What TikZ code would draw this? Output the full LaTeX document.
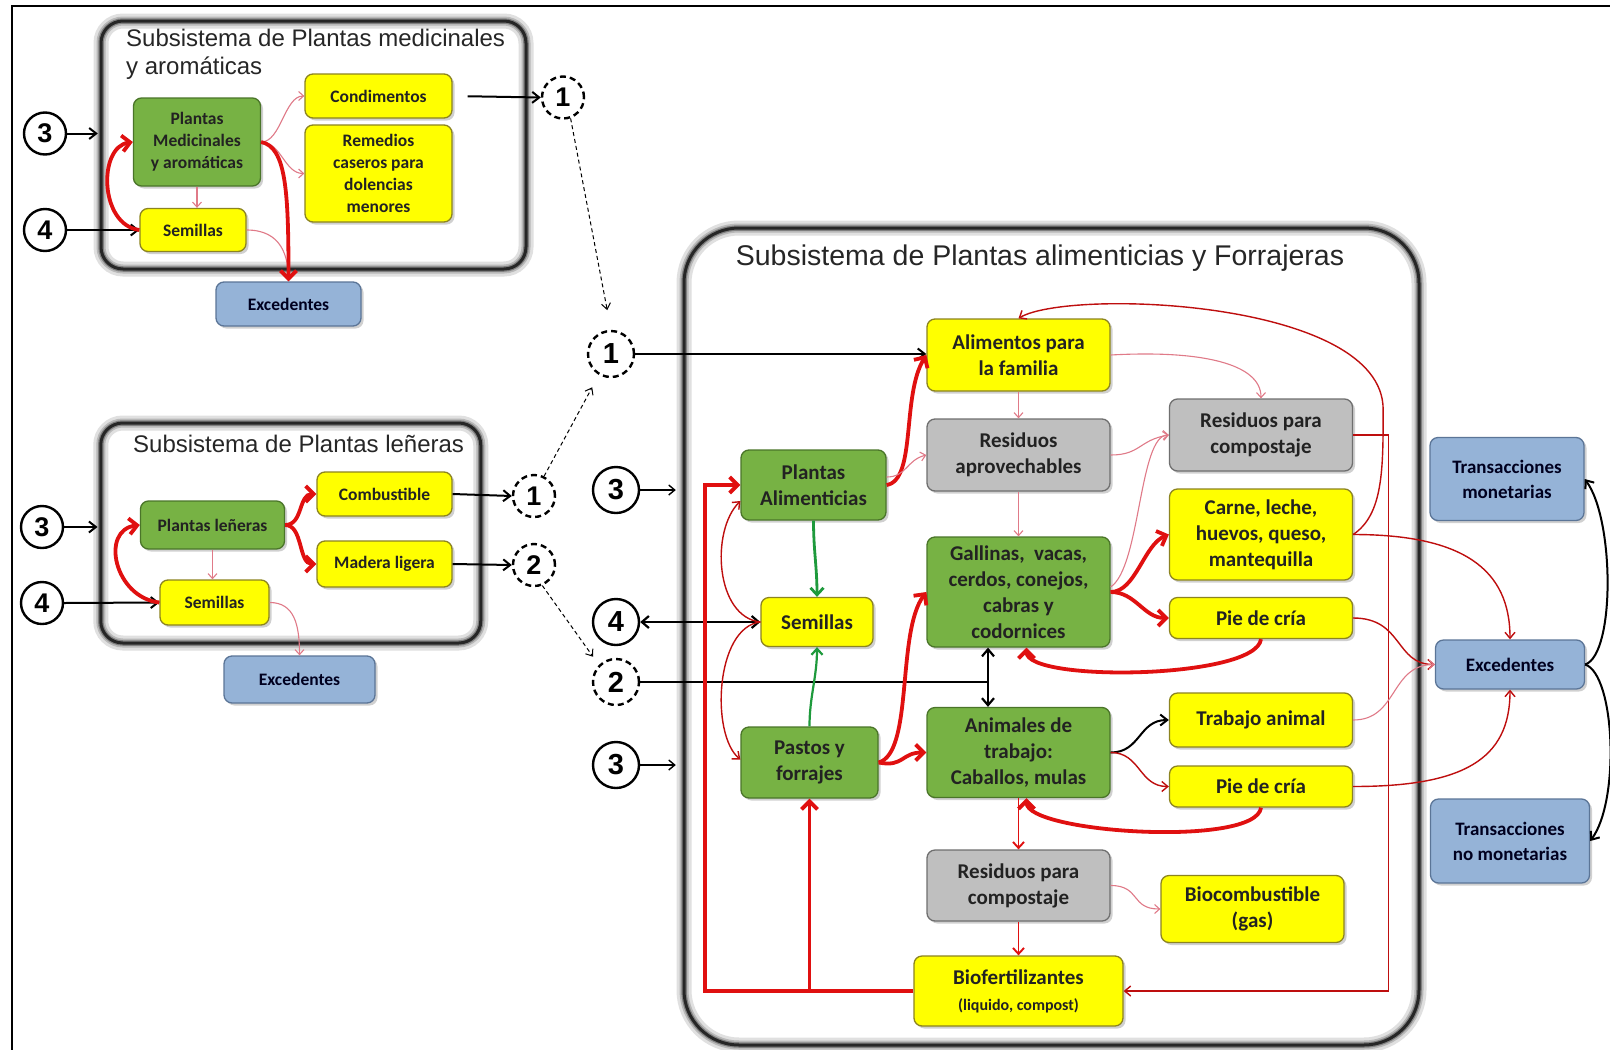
\documentclass[tikz,border=0pt]{standalone}
\usepackage{fontspec}
\setmainfont{Carlito}
\newfontfamily\arialf{Liberation Sans}
\usetikzlibrary{arrows.meta,calc,shadows}
\definecolor{yfill}{HTML}{FFFF00}
\definecolor{yline}{HTML}{8C8420}
\definecolor{gfill}{HTML}{77B244}
\definecolor{gline}{HTML}{4A7529}
\definecolor{grfill}{HTML}{BFBFBF}
\definecolor{grline}{HTML}{6F6F6F}
\definecolor{bfill}{HTML}{95B3D7}
\definecolor{bline}{HTML}{5B7597}
\definecolor{redc}{HTML}{E01010}
\definecolor{pinkc}{HTML}{E07A88}
\definecolor{greenc}{HTML}{1E9A3C}
\definecolor{txtc}{HTML}{222222}
\newcommand\fbig{\fontsize{21}{26}\selectfont\bfseries}
\newcommand\fsml{\fontsize{17.5}{22}\selectfont\bfseries}
\newcommand\fblu{\fontsize{19}{25}\selectfont\bfseries}
\newcommand\fnumA{\arialf\fontsize{27}{27}\selectfont\bfseries}
\newcommand\fnumB{\arialf\fontsize{29}{29}\selectfont\bfseries}
\newcommand\fttl{\arialf\fontsize{24}{28}\selectfont}
\newcommand\fttlB{\arialf\fontsize{28.5}{32}\selectfont}
\begin{document}
\begin{tikzpicture}[x=1pt,y=-1pt,
  bx/.style={rounded corners=8pt, line width=1.3pt, align=center, inner sep=2pt, text=txtc, font=\fbig,
     drop shadow={shadow xshift=2.5pt, shadow yshift=-2.5pt, opacity=0.3, fill=black!60}},
  yb/.style={bx, fill=yfill, draw=yline},
  gb/.style={bx, fill=gfill, draw=gline},
  grb/.style={bx, fill=grfill, draw=grline},
  bb/.style={bx, fill=bfill, draw=bline, text=black!80!blue!60!black},
  sfont/.style={font=\fsml},
  bfont/.style={font=\fblu},
  circA/.style={circle, draw=black, line width=2.4pt, fill=white, minimum size=42, inner sep=0pt, font=\fnumA},
  circB/.style={circA, minimum size=46, font=\fnumB},
  dashc/.style={dash pattern=on 6pt off 4pt},
  subbox/.style={fill=white, rounded corners=22pt, inner sep=0pt,
     postaction={draw=black!12, line width=15pt},
     postaction={draw=black!28, line width=9pt},
     postaction={draw=black!50, line width=5.5pt},
     postaction={draw=black!85, line width=3pt}},
  blk/.style={draw=black, line width=2pt, -{Straight Barb[length=7pt,width=11pt]}},
  blkboth/.style={draw=black, line width=2.2pt, {Straight Barb[length=7pt,width=12pt]}-{Straight Barb[length=7pt,width=12pt]}},
  blkthin/.style={draw=black, line width=1.4pt, -{Straight Barb[length=6pt,width=10pt]}},
  redthick/.style={draw=redc, line width=3.8pt, -{Straight Barb[length=8pt,width=16pt]}},
  redmid/.style={draw=redc, line width=1.9pt, -{Straight Barb[length=6pt,width=11pt]}},
  redthin/.style={draw=redc!85!black, line width=1.4pt, -{Straight Barb[length=6pt,width=10pt]}},
  pinkarr/.style={draw=pinkc, line width=1.1pt, -{Straight Barb[length=5pt,width=9pt]}},
  greenarr/.style={draw=greenc, line width=2.8pt, -{Straight Barb[length=7pt,width=13pt]}},
  greenthin/.style={draw=greenc, line width=2.2pt, -{Straight Barb[length=6pt,width=11pt]}},
  dasharr/.style={draw=black, line width=1pt, dash pattern=on 4pt off 3pt, -{Straight Barb[length=6pt,width=9pt]}}
]
\fill[white] (0,0) rectangle (1610,1050);
\useasboundingbox (0,0) rectangle (1610,1050);
\draw[black, line width=1.5pt] (12,1052) -- (12,6) -- (1612,6);

% subsystem frames
\node[subbox, minimum width=425, minimum height=248] (medbox) at (313.5,145) {};
\node[subbox, minimum width=380, minimum height=220] (woodbox) at (290.75,533) {};
\node[subbox, rounded corners=55pt, minimum width=735, minimum height=817] (mainbox) at (1051.5,636.5) {};

\node[anchor=north west, align=left, font=\fttl, text=black!85, inner sep=0pt] (tmed) at (126,29) {Subsistema de Plantas medicinales\\y aromáticas};
\node[anchor=west, font=\fttl, text=black!85, inner sep=0pt] (twood) at (133,443.5) {Subsistema de Plantas leñeras};
\node[font=\fttlB, text=black!85, inner sep=0pt] (tmain) at (1040,258) {Subsistema de Plantas alimenticias y Forrajeras};

% medicinal subsystem
\node[gb, sfont, minimum width=127, minimum height=88] (plmed) at (197,142) {Plantas\\Medicinales\\y aromáticas};
\node[yb, sfont, minimum width=147, minimum height=44] (cond) at (378.5,96) {Condimentos};
\node[yb, sfont, minimum width=147, minimum height=97] (rem) at (378.5,173.5) {Remedios\\caseros para\\dolencias\\menores};
\node[yb, sfont, minimum width=106, minimum height=43] (semM) at (193,230) {Semillas};
\node[bb, sfont, minimum width=145, minimum height=44] (excM) at (288.5,304) {Excedentes};
\node[circA] (c3m) at (45,133.5) {3};
\node[circA] (c4m) at (45,230) {4};
\node[circA, dashc] (dcm1) at (563,97.5) {1};

% woody subsystem
\node[gb, sfont, minimum width=144, minimum height=48] (plw) at (212.5,525) {Plantas leñeras};
\node[yb, sfont, minimum width=135, minimum height=44] (comb) at (384.5,494) {Combustible};
\node[yb, sfont, minimum width=135, minimum height=46] (mad) at (384.5,564) {Madera ligera};
\node[yb, sfont, minimum width=109, minimum height=45] (semW) at (214.5,602.5) {Semillas};
\node[bb, sfont, minimum width=151, minimum height=47] (excW) at (299.5,679.5) {Excedentes};
\node[circA] (c3w) at (42,527) {3};
\node[circA] (c4w) at (42,603) {4};
\node[circA, dashc] (dc1w) at (534,496) {1};
\node[circA, dashc] (dc2w) at (534,565) {2};

% main subsystem
\node[circB, dashc] (dc1) at (611,354) {1};
\node[circB] (c3a) at (616,490) {3};
\node[circB] (c4) at (616,622) {4};
\node[circB, dashc] (dc2) at (616,682) {2};
\node[circB] (c3b) at (616,765) {3};

\node[yb, minimum width=183, minimum height=72] (alim) at (1018.5,355) {Alimentos para\\la familia};
\node[grb, minimum width=183, minimum height=72] (resap) at (1018.5,455) {Residuos\\aprovechables};
\node[gb, minimum width=145, minimum height=70] (plalim) at (813.5,485) {Plantas\\Alimenticias};
\node[grb, minimum width=183, minimum height=72] (rescompU) at (1261,435) {Residuos para\\compostaje};
\node[yb, minimum width=183, minimum height=91] (carne) at (1261,534.5) {Carne, leche,\\huevos, queso,\\mantequilla};
\node[gb, minimum width=183, minimum height=110] (gall) at (1018.5,592) {Gallinas,\ \ vacas,\\cerdos, conejos,\\cabras y\\codornices};
\node[yb, minimum width=183, minimum height=41] (pieU) at (1261,618) {Pie de cría};
\node[yb, minimum width=112, minimum height=49] (semmain) at (817,622) {Semillas};
\node[gb, minimum width=137, minimum height=71] (pastos) at (809.5,762.5) {Pastos y\\forrajes};
\node[gb, minimum width=183, minimum height=90] (anim) at (1018.5,752.5) {Animales de\\trabajo:\\Caballos, mulas};
\node[yb, minimum width=183, minimum height=54] (trab) at (1261,720) {Trabajo animal};
\node[yb, minimum width=183, minimum height=41] (pieL) at (1261,786.5) {Pie de cría};
\node[grb, minimum width=183, minimum height=71] (rescompL) at (1018.5,885.5) {Residuos para\\compostaje};
\node[yb, minimum width=183, minimum height=67] (biocomb) at (1252.5,909) {Biocombustible\\(gas)};
\node[yb, minimum width=209, minimum height=70] (bio) at (1018.5,991) {Biofertilizantes\\{\fontsize{16}{19}\selectfont\bfseries (liquido, compost)}};

\node[bb, bfont, minimum width=154, minimum height=83] (transm) at (1507,479) {Transacciones\\monetarias};
\node[bb, bfont, minimum width=149, minimum height=49] (excR) at (1510,664.5) {Excedentes};
\node[bb, bfont, minimum width=159, minimum height=84] (transn) at (1510,841) {Transacciones\\no monetarias};

% ---- medicinal connectors
\draw[blk, shorten >=3pt] (c3m.east) -- (c3m.east -| medbox.west);
\draw[blk] (c4m.east) -- (semM.west);
\draw[redthick] (semM.west) .. controls +(-40,-5) and +(-35,5) .. (plmed.west);
\draw[pinkarr] (plmed.south) -- (plmed.south |- semM.north);
\draw[pinkarr] (plmed.east) .. controls +(20,0) and +(-20,0) .. (cond.west);
\draw[pinkarr] (plmed.east) .. controls +(20,0) and +(-20,0) .. (rem.west);
\draw[pinkarr] (semM.east) .. controls +(35,0) and +(0,-25) .. (excM.north);
\draw[redthick] (plmed.east) .. controls +(25,5) and +(0,-90) .. (excM.north);
\draw[blk, shorten <=15pt] (cond.east) -- (dcm1.west);

% ---- woody connectors
\draw[blk, shorten >=3pt] (c3w.east) -- (c3w.east -| woodbox.west);
\draw[blk] (c4w.east) -- (semW.west);
\draw[redthick] (semW.west) .. controls +(-45,-5) and +(-40,5) .. (plw.west);
\draw[redthick] (plw.east) .. controls +(18,0) and +(-18,0) .. (comb.west);
\draw[redthick] (plw.east) .. controls +(18,0) and +(-18,0) .. (mad.west);
\draw[pinkarr] (plw.south) -- (plw.south |- semW.north);
\draw[pinkarr] (semW.east) .. controls +(25,0) and +(0,-30) .. (excW.north);
\draw[blk] (comb.east) -- (dc1w.west);
\draw[blk] (mad.east) -- (dc2w.west);

% ---- dashed links
\draw[dasharr, shorten >=20pt] (dcm1.-70) -- (dc1.north);
\draw[dasharr, shorten >=14pt] (dc1w.63) -- (dc1.240);
\draw[dasharr, shorten >=10pt] (dc2w.-68) -- (dc2.135);

% ---- main connectors
\draw[blk] (dc1.east) -- (dc1.east -| alim.west);
\draw[blkthin, shorten >=8pt] (c3a.east) -- (c3a.east -| mainbox.west);
\draw[blkthin, shorten >=8pt] (c3b.east) -- (c3b.east -| mainbox.west);
\draw[blkboth] (c4.east) -- (semmain.west);
\coordinate (j2) at (988,682);
\draw[black, line width=2pt] (dc2.east) -- (j2);
\draw[blkboth] (j2 |- gall.south) -- (j2 |- anim.north);

\draw[redthick] (bio.west) -| ($(plalim.west)+(-35,0)$) -- (plalim.west);
\draw[redthick] (pastos.south |- bio.west) -- (pastos.south);
\draw[redthin] (rescompU.east) -| ($(bio.east)+(265,0)$) -- (bio.east);

\draw[redthick] (plalim.east) .. controls +(30,-5) and +(-25,40) .. (alim.west);
\draw[pinkarr] ($(plalim.east)+(0,-8)$) .. controls +(20,0) and +(-20,5) .. (resap.west);
\draw[greenarr] (plalim.south) .. controls +(0,30) and +(0,-30) .. (semmain.north);
\draw[greenthin] (pastos.north) .. controls +(0,-30) and +(0,30) .. (semmain.south);
\draw[redthin] (semmain.west) .. controls +(-45,-5) and +(-30,30) .. ($(plalim.west)+(0,16)$);
\draw[redthin] (semmain.west) .. controls +(-45,5) and +(-30,-25) .. ($(pastos.west)+(0,-3)$);
\draw[redthick] (pastos.east) .. controls +(35,-10) and +(-30,40) .. (gall.west);
\draw[redthick] (pastos.east) .. controls +(25,5) and +(-25,0) .. (anim.west);

\draw[pinkarr] (alim.south) -- (resap.north);
\draw[pinkarr] (resap.south) -- (gall.north);
\draw[pinkarr] (alim.east) .. controls +(90,-5) and +(0,-35) .. (rescompU.north);
\draw[pinkarr] (resap.east) .. controls +(30,0) and +(-30,5) .. (rescompU.west);
\draw[pinkarr] ($(gall.east)+(0,-5)$) .. controls +(30,-20) and +(-30,0) .. (rescompU.west);
\draw[redthick] (gall.east) .. controls +(25,0) and +(-25,10) .. (carne.west);
\draw[redthick] (gall.east) .. controls +(25,0) and +(-25,0) .. (pieU.west);
\draw[redthick] (pieU.south) .. controls +(-5,40) and +(0,35) .. ($(gall.south)+(8,0)$);

\draw[redthin] (carne.east) .. controls +(30,-20) and +(0,60) .. ($(carne.east)+(30,-125)$) .. controls +(0,-110) and +(50,-30) .. (alim.north);
\draw[redthin] (carne.east) .. controls +(110,0) and +(0,-70) .. (excR.north);
\draw[redthin] (pieU.east) .. controls +(50,0) and +(-40,0) .. (excR.west);
\draw[pinkarr] (trab.east) .. controls +(45,0) and +(-45,0) .. (excR.west);
\draw[redthin] (pieL.east) .. controls +(110,0) and +(0,70) .. (excR.south);

\draw[blk] (anim.east) .. controls +(30,0) and +(-30,0) .. (trab.west);
\draw[redthin] (anim.east) .. controls +(30,0) and +(-30,0) .. (pieL.west);
\draw[redthick] (pieL.south) .. controls +(-5,40) and +(0,35) .. ($(anim.south)+(8,0)$);
\draw[redmid] (anim.south) -- (rescompL.north);
\draw[redmid] (rescompL.south) -- (bio.north);
\draw[pinkarr] (rescompL.east) .. controls +(30,0) and +(-30,0) .. (biocomb.west);

\draw[blk] (excR.east) .. controls +(30,-10) and +(30,40) .. (transm.east);
\draw[blk] (excR.east) .. controls +(30,10) and +(30,-40) .. (transn.east);
\end{tikzpicture}
\end{document}
